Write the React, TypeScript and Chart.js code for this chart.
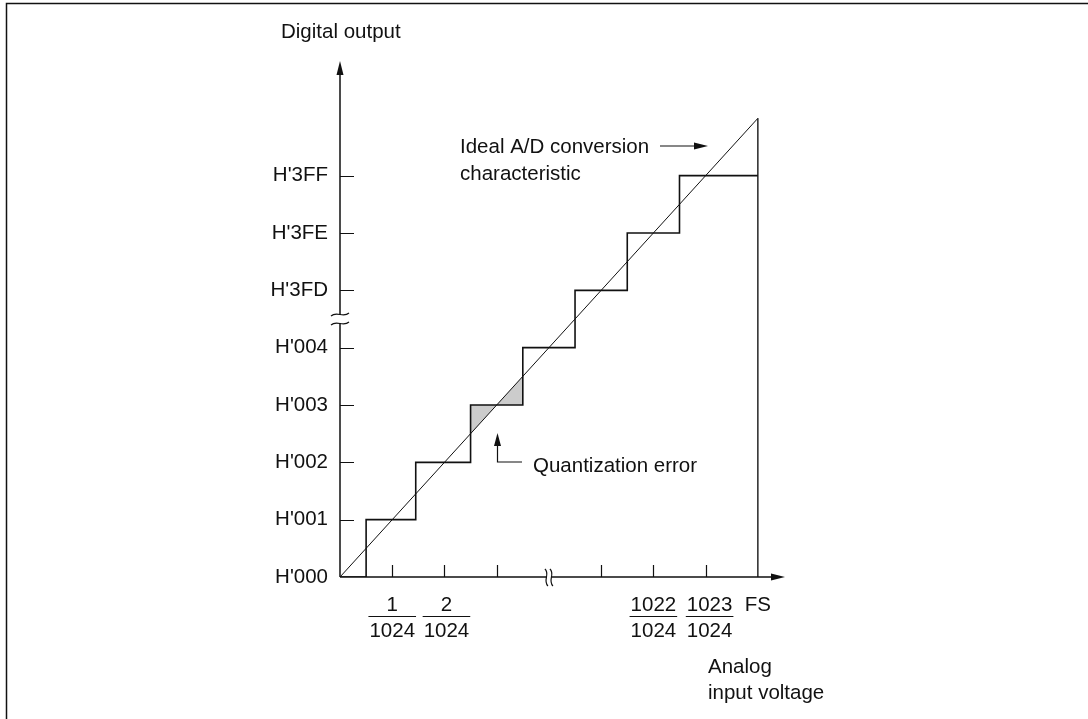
import React, { useEffect, useRef } from "react";
import { Chart, registerables } from "chart.js";

Chart.register(...registerables);

// ---------- data ----------
const yCodes = [0, 1, 2, 3, 4, 5, 6, 7];
const yCodeLabels = ["H'000", "H'001", "H'002", "H'003", "H'004", "H'3FD", "H'3FE", "H'3FF"];
const xTickSteps = [1, 2, 3, 5, 6, 7];
const fracSteps = [1, 2, 6, 7];
const fracNumerators = ["1", "2", "1022", "1023"];
const fracDenominator = "1024";
const fsStep = 8;
const fsLabel = "FS";
// x positions where the output code changes (edges of each code's step)
const stepEdges = [0, 0.5, 1.45, 2.5, 3.5, 4.5, 5.5, 6.5, 8];
const idealLine = [
  { x: 0, y: 0 },
  { x: 8, y: 8 },
];
const shadedCode = 3;
const shadedFrom = 2.5;
const shadedTo = 3.5;
const yAxisMax = 9;
const xAxisMax = 8.52;
const yBreakAt = 4.5;
const xBreakAt = 4;

const FONT = "'Liberation Sans', Arial, Helvetica, sans-serif";
const FS_ = 20.5;
const INK = "#111";

function buildStairs() {
  const pts: { x: number; y: number }[] = [];
  for (let i = 0; i < yCodes.length; i++) {
    pts.push({ x: stepEdges[i], y: yCodes[i] });
    pts.push({ x: stepEdges[i + 1], y: yCodes[i] });
  }
  return pts;
}

const diagramPlugin = {
  id: "diagram",
  afterDatasetsDraw(chart: any) {
    const ctx: CanvasRenderingContext2D = chart.ctx;
    const xs = chart.scales.x;
    const ys = chart.scales.y;
    const px = (v: number) => xs.getPixelForValue(v);
    const py = (v: number) => ys.getPixelForValue(v);
    const x0 = px(0);
    const y0 = py(0);
    const xEnd = px(xAxisMax);
    const yTop = py(yAxisMax);

    ctx.save();
    ctx.strokeStyle = INK;
    ctx.fillStyle = INK;
    ctx.lineCap = "butt";

    // frame (top and left)
    ctx.lineWidth = 1.5;
    ctx.beginPath();
    ctx.moveTo(6.5, chart.height);
    ctx.lineTo(6.5, 3.5);
    ctx.lineTo(chart.width, 3.5);
    ctx.stroke();

    // axes
    ctx.lineWidth = 1.5;
    ctx.beginPath();
    ctx.moveTo(x0, y0);
    ctx.lineTo(x0, yTop + 12);
    ctx.moveTo(x0, y0);
    ctx.lineTo(xEnd - 12, y0);
    ctx.stroke();
    // arrow heads
    ctx.beginPath();
    ctx.moveTo(x0, yTop);
    ctx.lineTo(x0 - 3.5, yTop + 14);
    ctx.lineTo(x0 + 3.5, yTop + 14);
    ctx.closePath();
    ctx.fill();
    ctx.beginPath();
    ctx.moveTo(xEnd, y0);
    ctx.lineTo(xEnd - 14, y0 - 3.5);
    ctx.lineTo(xEnd - 14, y0 + 3.5);
    ctx.closePath();
    ctx.fill();

    // tick marks
    ctx.lineWidth = 1.2;
    ctx.beginPath();
    yCodes.forEach((v) => {
      if (v === 0) return;
      const y = Math.round(py(v)) + 0.5;
      ctx.moveTo(x0, y);
      ctx.lineTo(x0 + 14, y);
    });
    xTickSteps.forEach((v) => {
      const x = Math.round(px(v)) + 0.5;
      ctx.moveTo(x, y0);
      ctx.lineTo(x, y0 - 12);
    });
    ctx.stroke();

    // y-axis break
    const yb = py(yBreakAt);
    ctx.fillStyle = "#fff";
    ctx.fillRect(x0 - 4, yb - 4, 8, 8);
    ctx.lineWidth = 1.2;
    ctx.beginPath();
    [-4.5, 4.5].forEach((d) => {
      const yy = yb + d;
      ctx.moveTo(x0 - 9, yy + 1.5);
      ctx.bezierCurveTo(x0 - 3, yy - 4, x0 + 3, yy + 4, x0 + 9, yy - 1.5);
    });
    ctx.stroke();

    // x-axis break
    const xb = px(xBreakAt);
    ctx.fillStyle = "#fff";
    ctx.fillRect(xb - 2, y0 - 3, 5, 6);
    ctx.beginPath();
    [-2.5, 2.5].forEach((d) => {
      const xx = xb + d;
      ctx.moveTo(xx - 1.5, y0 - 8);
      ctx.bezierCurveTo(xx + 4, y0 - 3, xx - 4, y0 + 3, xx + 1.5, y0 + 9);
    });
    ctx.stroke();

    // x labels (fractions)
    ctx.fillStyle = INK;
    ctx.font = `${FS_}px ${FONT}`;
    ctx.textAlign = "center";
    ctx.textBaseline = "alphabetic";
    const nudges = [0, 2, 0, 4];
    fracSteps.forEach((s, i) => {
      const cx = px(s) + nudges[i];
      ctx.fillText(fracNumerators[i], cx, 611);
      ctx.fillText(fracDenominator, cx, 637);
      const w = ctx.measureText(fracDenominator).width;
      ctx.lineWidth = 1;
      ctx.beginPath();
      ctx.moveTo(cx - w / 2 - 1, 616.5);
      ctx.lineTo(cx + w / 2 + 1, 616.5);
      ctx.stroke();
    });
    ctx.fillText(fsLabel, px(fsStep), 611);

    // axis titles
    ctx.textAlign = "left";
    ctx.fillText("Digital output", 281, 38);
    ctx.fillText("Analog", 708, 673);
    ctx.fillText("input voltage", 708, 699);

    // ideal annotation
    ctx.fillText("Ideal A/D conversion", 460, 153);
    ctx.fillText("characteristic", 460, 180);
    ctx.lineWidth = 1.2;
    ctx.beginPath();
    ctx.moveTo(660, 146);
    ctx.lineTo(696, 146);
    ctx.stroke();
    ctx.beginPath();
    ctx.moveTo(708, 146);
    ctx.lineTo(694, 142.5);
    ctx.lineTo(694, 149.5);
    ctx.closePath();
    ctx.fill();

    // quantization error annotation
    const qx = Math.round(px(3)) + 0.5;
    ctx.beginPath();
    ctx.moveTo(qx, 444);
    ctx.lineTo(qx, 462);
    ctx.lineTo(522, 462);
    ctx.stroke();
    ctx.beginPath();
    ctx.moveTo(qx, 433);
    ctx.lineTo(qx - 3.5, 446);
    ctx.lineTo(qx + 3.5, 446);
    ctx.closePath();
    ctx.fill();
    ctx.fillText("Quantization error", 533, 472);

    ctx.restore();
  },
};

export default function App() {
  const ref = useRef<HTMLCanvasElement | null>(null);

  useEffect(() => {
    document.body.style.margin = "0";
    const canvas = ref.current;
    if (!canvas) return;
    const chart = new Chart(canvas, {
      type: "line",
      data: {
        datasets: [
          {
            label: "Staircase",
            data: buildStairs(),
            borderColor: INK,
            borderWidth: 1.6,
            pointRadius: 0,
            fill: false,
            tension: 0,
          },
          {
            label: "Ideal",
            data: idealLine,
            borderColor: INK,
            borderWidth: 1,
            pointRadius: 0,
            fill: false,
          },
          {
            label: "FS",
            data: [
              { x: fsStep, y: 0 },
              { x: fsStep, y: 8 },
            ],
            borderColor: "#333",
            borderWidth: 1.6,
            pointRadius: 0,
            fill: false,
          },
          {
            label: "Quantization error",
            data: [
              { x: shadedFrom, y: shadedFrom },
              { x: shadedTo, y: shadedTo },
            ],
            borderWidth: 0,
            borderColor: "rgba(0,0,0,0)",
            backgroundColor: "#cccccc",
            pointRadius: 0,
            fill: { value: shadedCode },
          },
        ],
      },
      options: {
        animation: false,
        responsive: false,
        devicePixelRatio: 1,
        layout: { padding: { top: 61, right: 303, bottom: 142, left: 0 } },
        plugins: {
          legend: { display: false },
          tooltip: { enabled: false },
        },
        events: [],
        scales: {
          x: {
            type: "linear",
            min: 0,
            max: xAxisMax,
            display: false,
          },
          y: {
            type: "linear",
            min: 0,
            max: yAxisMax,
            grid: { display: false, drawTicks: false },
            border: { display: false },
            afterBuildTicks: (scale: any) => {
              scale.ticks = yCodes.map((v) => ({ value: v }));
            },
            afterFit: (scale: any) => {
              scale.width = 340;
            },
            ticks: {
              autoSkip: false,
              padding: 12,
              color: INK,
              font: { family: FONT, size: FS_ },
              callback: (value: any) => {
                const i = yCodes.indexOf(Number(value));
                return i >= 0 ? yCodeLabels[i] : "";
              },
            },
          },
        },
      },
      plugins: [diagramPlugin],
    } as any);
    return () => chart.destroy();
  }, []);

  return (
    <div style={{ position: "absolute", left: 0, top: 0, width: 1088, height: 719, background: "#fff" }}>
      <canvas ref={ref} width={1088} height={719} style={{ display: "block" }} />
    </div>
  );
}
